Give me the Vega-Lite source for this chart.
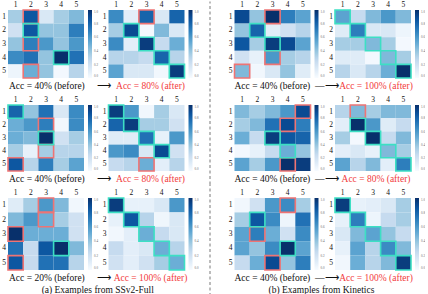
{
"$schema": "https://vega.github.io/schema/vega-lite/v6.json",
"padding": {"left": 1, "top": 0, "right": 0, "bottom": 0},
"config": {
 "view": {"stroke": null},
 "font": "Liberation Serif",
 "axis": {"labelFont": "Liberation Serif", "labelFontSize": 7.5, "labelColor": "#111", "ticks": false, "domain": false, "grid": false, "labelPadding": 1.5, "labelAngle": 0},
 "axisY": {"labelPadding": 2.5},
 "legend": {"gradientThickness": 4, "labelFontSize": 3.2, "labelColor": "#666", "offset": 4, "padding": 0, "gradientStrokeWidth": 0, "labelOffset": 1.5, "tickCount": 6, "labelFont": "Liberation Serif"},
 "title": {"font": "Liberation Serif", "fontSize": 9.5, "fontWeight": "normal", "color": "#111", "frame": "group"}
},
"data": {"values": [
{"p":"A1","r":1,"c":1,"v":0.35},{"p":"A1","r":1,"c":2,"v":0.85,"b":"R"},{"p":"A1","r":1,"c":3,"v":0.15},{"p":"A1","r":1,"c":4,"v":0.35},{"p":"A1","r":1,"c":5,"v":0.45},
{"p":"A1","r":2,"c":1,"v":0.2},{"p":"A1","r":2,"c":2,"v":0.85,"b":"C"},{"p":"A1","r":2,"c":3,"v":0.4},{"p":"A1","r":2,"c":4,"v":0.4},{"p":"A1","r":2,"c":5,"v":0.7},
{"p":"A1","r":3,"c":1,"v":0.4},{"p":"A1","r":3,"c":2,"v":0.7,"b":"R"},{"p":"A1","r":3,"c":3,"v":0.6},{"p":"A1","r":3,"c":4,"v":0.4},{"p":"A1","r":3,"c":5,"v":0.6},
{"p":"A1","r":4,"c":1,"v":0.65},{"p":"A1","r":4,"c":2,"v":0.75},{"p":"A1","r":4,"c":3,"v":0.4},{"p":"A1","r":4,"c":4,"v":1.0,"b":"C"},{"p":"A1","r":4,"c":5,"v":0.75},
{"p":"A1","r":5,"c":1,"v":0.05},{"p":"A1","r":5,"c":2,"v":0.5,"b":"R"},{"p":"A1","r":5,"c":3,"v":0.4},{"p":"A1","r":5,"c":4,"v":0.02},{"p":"A1","r":5,"c":5,"v":0.3},
{"p":"A2","r":1,"c":1,"v":0.65},{"p":"A2","r":1,"c":2,"v":0.1},{"p":"A2","r":1,"c":3,"v":0.8,"b":"R"},{"p":"A2","r":1,"c":4,"v":0.15},{"p":"A2","r":1,"c":5,"v":0.8},
{"p":"A2","r":2,"c":1,"v":0.35},{"p":"A2","r":2,"c":2,"v":0.9,"b":"C"},{"p":"A2","r":2,"c":3,"v":0.02},{"p":"A2","r":2,"c":4,"v":0.45},{"p":"A2","r":2,"c":5,"v":0.15},
{"p":"A2","r":3,"c":1,"v":0.65},{"p":"A2","r":3,"c":2,"v":0.1},{"p":"A2","r":3,"c":3,"v":0.95,"b":"C"},{"p":"A2","r":3,"c":4,"v":0.25},{"p":"A2","r":3,"c":5,"v":0.5},
{"p":"A2","r":4,"c":1,"v":0.3},{"p":"A2","r":4,"c":2,"v":0.3},{"p":"A2","r":4,"c":3,"v":0.25},{"p":"A2","r":4,"c":4,"v":0.8,"b":"C"},{"p":"A2","r":4,"c":5,"v":0.3},
{"p":"A2","r":5,"c":1,"v":0.55},{"p":"A2","r":5,"c":2,"v":0.15},{"p":"A2","r":5,"c":3,"v":0.15},{"p":"A2","r":5,"c":4,"v":0.03},{"p":"A2","r":5,"c":5,"v":0.95,"b":"C"},
{"p":"B1","r":1,"c":1,"v":0.9},{"p":"B1","r":1,"c":2,"v":0.4},{"p":"B1","r":1,"c":3,"v":1.0,"b":"R"},{"p":"B1","r":1,"c":4,"v":0.7},{"p":"B1","r":1,"c":5,"v":0.55},
{"p":"B1","r":2,"c":1,"v":0.4},{"p":"B1","r":2,"c":2,"v":0.8,"b":"C"},{"p":"B1","r":2,"c":3,"v":0.1},{"p":"B1","r":2,"c":4,"v":0.2},{"p":"B1","r":2,"c":5,"v":0.3},
{"p":"B1","r":3,"c":1,"v":0.85},{"p":"B1","r":3,"c":2,"v":0.35},{"p":"B1","r":3,"c":3,"v":0.95,"b":"C"},{"p":"B1","r":3,"c":4,"v":0.9},{"p":"B1","r":3,"c":5,"v":0.55},
{"p":"B1","r":4,"c":1,"v":0.2},{"p":"B1","r":4,"c":2,"v":0.08},{"p":"B1","r":4,"c":3,"v":0.6,"b":"R"},{"p":"B1","r":4,"c":4,"v":0.35},{"p":"B1","r":4,"c":5,"v":0.3},
{"p":"B1","r":5,"c":1,"v":0.45,"b":"R"},{"p":"B1","r":5,"c":2,"v":0.03},{"p":"B1","r":5,"c":3,"v":0.15},{"p":"B1","r":5,"c":4,"v":0.4},{"p":"B1","r":5,"c":5,"v":0.12},
{"p":"B2","r":1,"c":1,"v":0.55,"b":"C"},{"p":"B2","r":1,"c":2,"v":0.25},{"p":"B2","r":1,"c":3,"v":0.45},{"p":"B2","r":1,"c":4,"v":0.6},{"p":"B2","r":1,"c":5,"v":0.45},
{"p":"B2","r":2,"c":1,"v":0.12},{"p":"B2","r":2,"c":2,"v":0.7,"b":"C"},{"p":"B2","r":2,"c":3,"v":0.15},{"p":"B2","r":2,"c":4,"v":0.15},{"p":"B2","r":2,"c":5,"v":0.05},
{"p":"B2","r":3,"c":1,"v":0.35},{"p":"B2","r":3,"c":2,"v":0.35},{"p":"B2","r":3,"c":3,"v":0.45,"b":"C"},{"p":"B2","r":3,"c":4,"v":0.35},{"p":"B2","r":3,"c":5,"v":0.02},
{"p":"B2","r":4,"c":1,"v":0.12},{"p":"B2","r":4,"c":2,"v":0.12},{"p":"B2","r":4,"c":3,"v":0.02},{"p":"B2","r":4,"c":4,"v":0.45,"b":"C"},{"p":"B2","r":4,"c":5,"v":0.35},
{"p":"B2","r":5,"c":1,"v":0.3},{"p":"B2","r":5,"c":2,"v":0.15},{"p":"B2","r":5,"c":3,"v":0.3},{"p":"B2","r":5,"c":4,"v":0.5},{"p":"B2","r":5,"c":5,"v":1.0,"b":"C"},
{"p":"A3","r":1,"c":1,"v":0.8,"b":"C"},{"p":"A3","r":1,"c":2,"v":0.4},{"p":"A3","r":1,"c":3,"v":0.75},{"p":"A3","r":1,"c":4,"v":0.15},{"p":"A3","r":1,"c":5,"v":0.65},
{"p":"A3","r":2,"c":1,"v":0.5},{"p":"A3","r":2,"c":2,"v":0.6},{"p":"A3","r":2,"c":3,"v":0.7,"b":"R"},{"p":"A3","r":2,"c":4,"v":0.03},{"p":"A3","r":2,"c":5,"v":0.65},
{"p":"A3","r":3,"c":1,"v":0.5},{"p":"A3","r":3,"c":2,"v":0.45},{"p":"A3","r":3,"c":3,"v":1.0,"b":"C"},{"p":"A3","r":3,"c":4,"v":0.2},{"p":"A3","r":3,"c":5,"v":0.35},
{"p":"A3","r":4,"c":1,"v":0.35},{"p":"A3","r":4,"c":2,"v":0.08},{"p":"A3","r":4,"c":3,"v":0.35,"b":"R"},{"p":"A3","r":4,"c":4,"v":0.3},{"p":"A3","r":4,"c":5,"v":0.3},
{"p":"A3","r":5,"c":1,"v":0.85,"b":"R"},{"p":"A3","r":5,"c":2,"v":0.3},{"p":"A3","r":5,"c":3,"v":0.7},{"p":"A3","r":5,"c":4,"v":0.35},{"p":"A3","r":5,"c":5,"v":0.55},
{"p":"A4","r":1,"c":1,"v":0.95,"b":"C"},{"p":"A4","r":1,"c":2,"v":0.6},{"p":"A4","r":1,"c":3,"v":0.03},{"p":"A4","r":1,"c":4,"v":0.35},{"p":"A4","r":1,"c":5,"v":0.15},
{"p":"A4","r":2,"c":1,"v":0.8},{"p":"A4","r":2,"c":2,"v":0.95,"b":"C"},{"p":"A4","r":2,"c":3,"v":0.35},{"p":"A4","r":2,"c":4,"v":0.35},{"p":"A4","r":2,"c":5,"v":0.2},
{"p":"A4","r":3,"c":1,"v":0.12},{"p":"A4","r":3,"c":2,"v":0.12},{"p":"A4","r":3,"c":3,"v":0.75,"b":"C"},{"p":"A4","r":3,"c":4,"v":0.08},{"p":"A4","r":3,"c":5,"v":0.6},
{"p":"A4","r":4,"c":1,"v":0.6},{"p":"A4","r":4,"c":2,"v":0.65},{"p":"A4","r":4,"c":3,"v":0.15},{"p":"A4","r":4,"c":4,"v":0.9,"b":"C"},{"p":"A4","r":4,"c":5,"v":0.2},
{"p":"A4","r":5,"c":1,"v":0.25},{"p":"A4","r":5,"c":2,"v":0.3},{"p":"A4","r":5,"c":3,"v":0.5,"b":"R"},{"p":"A4","r":5,"c":4,"v":0.1},{"p":"A4","r":5,"c":5,"v":0.3},
{"p":"B3","r":1,"c":1,"v":0.45},{"p":"B3","r":1,"c":2,"v":0.35},{"p":"B3","r":1,"c":3,"v":0.45},{"p":"B3","r":1,"c":4,"v":0.6},{"p":"B3","r":1,"c":5,"v":0.9,"b":"R"},
{"p":"B3","r":2,"c":1,"v":0.35},{"p":"B3","r":2,"c":2,"v":0.45},{"p":"B3","r":2,"c":3,"v":0.75},{"p":"B3","r":2,"c":4,"v":0.9,"b":"R"},{"p":"B3","r":2,"c":5,"v":0.7},
{"p":"B3","r":3,"c":1,"v":0.5},{"p":"B3","r":3,"c":2,"v":0.25},{"p":"B3","r":3,"c":3,"v":0.95,"b":"C"},{"p":"B3","r":3,"c":4,"v":0.85},{"p":"B3","r":3,"c":5,"v":0.8},
{"p":"B3","r":4,"c":1,"v":0.02},{"p":"B3","r":4,"c":2,"v":0.08},{"p":"B3","r":4,"c":3,"v":0.25},{"p":"B3","r":4,"c":4,"v":0.5,"b":"C"},{"p":"B3","r":4,"c":5,"v":0.4},
{"p":"B3","r":5,"c":1,"v":0.55},{"p":"B3","r":5,"c":2,"v":0.35},{"p":"B3","r":5,"c":3,"v":0.6},{"p":"B3","r":5,"c":4,"v":1.0,"b":"R"},{"p":"B3","r":5,"c":5,"v":0.95},
{"p":"B4","r":1,"c":1,"v":0.3},{"p":"B4","r":1,"c":2,"v":0.45,"b":"R"},{"p":"B4","r":1,"c":3,"v":0.35},{"p":"B4","r":1,"c":4,"v":0.45},{"p":"B4","r":1,"c":5,"v":0.45},
{"p":"B4","r":2,"c":1,"v":0.1},{"p":"B4","r":2,"c":2,"v":1.0,"b":"C"},{"p":"B4","r":2,"c":3,"v":0.6},{"p":"B4","r":2,"c":4,"v":0.12},{"p":"B4","r":2,"c":5,"v":0.25},
{"p":"B4","r":3,"c":1,"v":0.35},{"p":"B4","r":3,"c":2,"v":0.02},{"p":"B4","r":3,"c":3,"v":1.0,"b":"C"},{"p":"B4","r":3,"c":4,"v":0.25},{"p":"B4","r":3,"c":5,"v":0.45},
{"p":"B4","r":4,"c":1,"v":0.1},{"p":"B4","r":4,"c":2,"v":0.15},{"p":"B4","r":4,"c":3,"v":0.08},{"p":"B4","r":4,"c":4,"v":0.45,"b":"C"},{"p":"B4","r":4,"c":5,"v":0.35},
{"p":"B4","r":5,"c":1,"v":0.55},{"p":"B4","r":5,"c":2,"v":0.3},{"p":"B4","r":5,"c":3,"v":0.45},{"p":"B4","r":5,"c":4,"v":0.1},{"p":"B4","r":5,"c":5,"v":0.7,"b":"C"},
{"p":"A5","r":1,"c":1,"v":0.12},{"p":"A5","r":1,"c":2,"v":0.35},{"p":"A5","r":1,"c":3,"v":0.6,"b":"R"},{"p":"A5","r":1,"c":4,"v":0.45},{"p":"A5","r":1,"c":5,"v":0.03},
{"p":"A5","r":2,"c":1,"v":0.45},{"p":"A5","r":2,"c":2,"v":0.6},{"p":"A5","r":2,"c":3,"v":0.5,"b":"R"},{"p":"A5","r":2,"c":4,"v":0.35},{"p":"A5","r":2,"c":5,"v":0.2},
{"p":"A5","r":3,"c":1,"v":1.0,"b":"R"},{"p":"A5","r":3,"c":2,"v":0.5},{"p":"A5","r":3,"c":3,"v":0.5},{"p":"A5","r":3,"c":4,"v":0.5},{"p":"A5","r":3,"c":5,"v":0.2},
{"p":"A5","r":4,"c":1,"v":0.75},{"p":"A5","r":4,"c":2,"v":0.25},{"p":"A5","r":4,"c":3,"v":0.85},{"p":"A5","r":4,"c":4,"v":1.0,"b":"C"},{"p":"A5","r":4,"c":5,"v":0.45},
{"p":"A5","r":5,"c":1,"v":0.85,"b":"R"},{"p":"A5","r":5,"c":2,"v":0.25},{"p":"A5","r":5,"c":3,"v":0.75},{"p":"A5","r":5,"c":4,"v":0.75},{"p":"A5","r":5,"c":5,"v":0.3},
{"p":"A6","r":1,"c":1,"v":0.95,"b":"C"},{"p":"A6","r":1,"c":2,"v":0.08},{"p":"A6","r":1,"c":3,"v":0.08},{"p":"A6","r":1,"c":4,"v":0.15},{"p":"A6","r":1,"c":5,"v":0.6},
{"p":"A6","r":2,"c":1,"v":0.08},{"p":"A6","r":2,"c":2,"v":0.85,"b":"C"},{"p":"A6","r":2,"c":3,"v":0.3},{"p":"A6","r":2,"c":4,"v":0.04},{"p":"A6","r":2,"c":5,"v":0.15},
{"p":"A6","r":3,"c":1,"v":0.03},{"p":"A6","r":3,"c":2,"v":0.1},{"p":"A6","r":3,"c":3,"v":0.5,"b":"C"},{"p":"A6","r":3,"c":4,"v":0.25},{"p":"A6","r":3,"c":5,"v":0.15},
{"p":"A6","r":4,"c":1,"v":0.25},{"p":"A6","r":4,"c":2,"v":0.1},{"p":"A6","r":4,"c":3,"v":0.15},{"p":"A6","r":4,"c":4,"v":0.5,"b":"C"},{"p":"A6","r":4,"c":5,"v":0.3},
{"p":"A6","r":5,"c":1,"v":0.2},{"p":"A6","r":5,"c":2,"v":0.1},{"p":"A6","r":5,"c":3,"v":0.2},{"p":"A6","r":5,"c":4,"v":0.35},{"p":"A6","r":5,"c":5,"v":0.5,"b":"C"},
{"p":"B5","r":1,"c":1,"v":0.03},{"p":"B5","r":1,"c":2,"v":0.2},{"p":"B5","r":1,"c":3,"v":0.6},{"p":"B5","r":1,"c":4,"v":0.65,"b":"R"},{"p":"B5","r":1,"c":5,"v":0.35},
{"p":"B5","r":2,"c":1,"v":0.35},{"p":"B5","r":2,"c":2,"v":0.85,"b":"C"},{"p":"B5","r":2,"c":3,"v":0.65},{"p":"B5","r":2,"c":4,"v":0.05},{"p":"B5","r":2,"c":5,"v":0.75},
{"p":"B5","r":3,"c":1,"v":0.55},{"p":"B5","r":3,"c":2,"v":0.7,"b":"R"},{"p":"B5","r":3,"c":3,"v":0.5},{"p":"B5","r":3,"c":4,"v":0.2},{"p":"B5","r":3,"c":5,"v":0.65},
{"p":"B5","r":4,"c":1,"v":0.55},{"p":"B5","r":4,"c":2,"v":0.4},{"p":"B5","r":4,"c":3,"v":0.65},{"p":"B5","r":4,"c":4,"v":1.0,"b":"C"},{"p":"B5","r":4,"c":5,"v":0.55},
{"p":"B5","r":5,"c":1,"v":0.25},{"p":"B5","r":5,"c":2,"v":0.5},{"p":"B5","r":5,"c":3,"v":0.9,"b":"R"},{"p":"B5","r":5,"c":4,"v":0.4},{"p":"B5","r":5,"c":5,"v":0.7},
{"p":"B6","r":1,"c":1,"v":0.95,"b":"C"},{"p":"B6","r":1,"c":2,"v":0.08},{"p":"B6","r":1,"c":3,"v":0.1},{"p":"B6","r":1,"c":4,"v":0.15},{"p":"B6","r":1,"c":5,"v":0.35},
{"p":"B6","r":2,"c":1,"v":0.08},{"p":"B6","r":2,"c":2,"v":0.7,"b":"C"},{"p":"B6","r":2,"c":3,"v":0.05},{"p":"B6","r":2,"c":4,"v":0.25},{"p":"B6","r":2,"c":5,"v":0.35},
{"p":"B6","r":3,"c":1,"v":0.15},{"p":"B6","r":3,"c":2,"v":0.45},{"p":"B6","r":3,"c":3,"v":0.55,"b":"C"},{"p":"B6","r":3,"c":4,"v":0.4},{"p":"B6","r":3,"c":5,"v":0.25},
{"p":"B6","r":4,"c":1,"v":0.08},{"p":"B6","r":4,"c":2,"v":0.55},{"p":"B6","r":4,"c":3,"v":0.3},{"p":"B6","r":4,"c":4,"v":0.65,"b":"C"},{"p":"B6","r":4,"c":5,"v":0.45},
{"p":"B6","r":5,"c":1,"v":0.03},{"p":"B6","r":5,"c":2,"v":0.5},{"p":"B6","r":5,"c":3,"v":0.3},{"p":"B6","r":5,"c":4,"v":0.45},{"p":"B6","r":5,"c":5,"v":0.95,"b":"C"}
]},
"columns": 5,
"spacing": {"row": 27, "column": 24.5},
"bounds": "flush",
"align": "each",
"resolve": {"scale": {"color": "independent"}, "legend": {"color": "independent"}},
"concat": [
 {"width": 76, "height": 68, "title": {"text": "Acc = 40% (before)\u2003\u2004\u27f6", "orient": "bottom", "anchor": "start", "offset": 2, "dx": 1},
  "transform": [{"filter": "datum.p == 'A1'"}],
  "encoding": {"x": {"field": "c", "type": "ordinal", "axis": {"orient": "top", "title": null}}, "y": {"field": "r", "type": "ordinal", "axis": {"title": null}}},
  "layer": [
   {"mark": "rect", "encoding": {"color": {"field": "v", "type": "quantitative", "scale": {"domain": [0,0.125,0.25,0.375,0.5,0.625,0.75,0.875,1], "range": ["#f7fbff","#deebf7","#c6dbef","#9ecae1","#6baed6","#4292c6","#2171b5","#08519c","#08306b"]}, "legend": {"title": null, "gradientLength": 68}}}},
   {"transform": [{"filter": "datum.b == 'R'"}], "mark": {"type": "rect", "filled": false, "stroke": "#ee7474", "strokeWidth": 1.6}},
   {"transform": [{"filter": "datum.b == 'C'"}], "mark": {"type": "rect", "filled": false, "stroke": "#3ddfc4", "strokeWidth": 1.6}}
  ]},
 {"width": 76, "height": 68, "title": {"text": "Acc = 80% (after)", "orient": "bottom", "anchor": "middle", "offset": 2, "dx": 4, "color": "#f23a3c"},
  "transform": [{"filter": "datum.p == 'A2'"}],
  "encoding": {"x": {"field": "c", "type": "ordinal", "axis": {"orient": "top", "title": null}}, "y": {"field": "r", "type": "ordinal", "axis": {"title": null}}},
  "layer": [
   {"mark": "rect", "encoding": {"color": {"field": "v", "type": "quantitative", "scale": {"domain": [0,0.125,0.25,0.375,0.5,0.625,0.75,0.875,1], "range": ["#f7fbff","#deebf7","#c6dbef","#9ecae1","#6baed6","#4292c6","#2171b5","#08519c","#08306b"]}, "legend": {"title": null, "gradientLength": 68}}}},
   {"transform": [{"filter": "datum.b == 'R'"}], "mark": {"type": "rect", "filled": false, "stroke": "#ee7474", "strokeWidth": 1.6}},
   {"transform": [{"filter": "datum.b == 'C'"}], "mark": {"type": "rect", "filled": false, "stroke": "#3ddfc4", "strokeWidth": 1.6}}
  ]},
 {"width": 1, "height": 68, "data": {"values": [{"d": 1}]},
  "mark": {"type": "rule", "strokeDash": [3, 2.5], "color": "#555", "strokeWidth": 0.8, "yOffset": 13.5, "y2Offset": -8.5},
  "encoding": {"x": {"datum": 1, "type": "quantitative", "scale": {"domain": [0, 1]}, "axis": null}, "y": {"datum": 0, "type": "quantitative", "scale": {"domain": [0, 1]}, "axis": null}, "y2": {"datum": 1}}},
 {"width": 76, "height": 68, "title": {"text": "Acc = 40% (before)\u2002\u2014\u27f6", "orient": "bottom", "anchor": "start", "offset": 2, "dx": 0},
  "transform": [{"filter": "datum.p == 'B1'"}],
  "encoding": {"x": {"field": "c", "type": "ordinal", "axis": {"orient": "top", "title": null}}, "y": {"field": "r", "type": "ordinal", "axis": {"title": null}}},
  "layer": [
   {"mark": "rect", "encoding": {"color": {"field": "v", "type": "quantitative", "scale": {"domain": [0,0.125,0.25,0.375,0.5,0.625,0.75,0.875,1], "range": ["#f7fbff","#deebf7","#c6dbef","#9ecae1","#6baed6","#4292c6","#2171b5","#08519c","#08306b"]}, "legend": {"title": null, "gradientLength": 68}}}},
   {"transform": [{"filter": "datum.b == 'R'"}], "mark": {"type": "rect", "filled": false, "stroke": "#ee7474", "strokeWidth": 1.6}},
   {"transform": [{"filter": "datum.b == 'C'"}], "mark": {"type": "rect", "filled": false, "stroke": "#3ddfc4", "strokeWidth": 1.6}}
  ]},
 {"width": 76, "height": 68, "title": {"text": "Acc = 100% (after)", "orient": "bottom", "anchor": "middle", "offset": 2, "dx": 3, "color": "#f23a3c"},
  "transform": [{"filter": "datum.p == 'B2'"}],
  "encoding": {"x": {"field": "c", "type": "ordinal", "axis": {"orient": "top", "title": null}}, "y": {"field": "r", "type": "ordinal", "axis": {"title": null}}},
  "layer": [
   {"mark": "rect", "encoding": {"color": {"field": "v", "type": "quantitative", "scale": {"domain": [0,0.125,0.25,0.375,0.5,0.625,0.75,0.875,1], "range": ["#f7fbff","#deebf7","#c6dbef","#9ecae1","#6baed6","#4292c6","#2171b5","#08519c","#08306b"]}, "legend": {"title": null, "gradientLength": 68}}}},
   {"transform": [{"filter": "datum.b == 'R'"}], "mark": {"type": "rect", "filled": false, "stroke": "#ee7474", "strokeWidth": 1.6}},
   {"transform": [{"filter": "datum.b == 'C'"}], "mark": {"type": "rect", "filled": false, "stroke": "#3ddfc4", "strokeWidth": 1.6}}
  ]},
 {"width": 76, "height": 66, "title": {"text": "Acc = 40% (before)\u2003\u2004\u27f6", "orient": "bottom", "anchor": "start", "offset": 2, "dx": 1},
  "transform": [{"filter": "datum.p == 'A3'"}],
  "encoding": {"x": {"field": "c", "type": "ordinal", "axis": {"orient": "top", "title": null}}, "y": {"field": "r", "type": "ordinal", "axis": {"title": null}}},
  "layer": [
   {"mark": "rect", "encoding": {"color": {"field": "v", "type": "quantitative", "scale": {"domain": [0,0.125,0.25,0.375,0.5,0.625,0.75,0.875,1], "range": ["#f7fbff","#deebf7","#c6dbef","#9ecae1","#6baed6","#4292c6","#2171b5","#08519c","#08306b"]}, "legend": {"title": null, "gradientLength": 66}}}},
   {"transform": [{"filter": "datum.b == 'R'"}], "mark": {"type": "rect", "filled": false, "stroke": "#ee7474", "strokeWidth": 1.6}},
   {"transform": [{"filter": "datum.b == 'C'"}], "mark": {"type": "rect", "filled": false, "stroke": "#3ddfc4", "strokeWidth": 1.6}}
  ]},
 {"width": 76, "height": 66, "title": {"text": "Acc = 80% (after)", "orient": "bottom", "anchor": "middle", "offset": 2, "dx": 4, "color": "#f23a3c"},
  "transform": [{"filter": "datum.p == 'A4'"}],
  "encoding": {"x": {"field": "c", "type": "ordinal", "axis": {"orient": "top", "title": null}}, "y": {"field": "r", "type": "ordinal", "axis": {"title": null}}},
  "layer": [
   {"mark": "rect", "encoding": {"color": {"field": "v", "type": "quantitative", "scale": {"domain": [0,0.125,0.25,0.375,0.5,0.625,0.75,0.875,1], "range": ["#f7fbff","#deebf7","#c6dbef","#9ecae1","#6baed6","#4292c6","#2171b5","#08519c","#08306b"]}, "legend": {"title": null, "gradientLength": 66}}}},
   {"transform": [{"filter": "datum.b == 'R'"}], "mark": {"type": "rect", "filled": false, "stroke": "#ee7474", "strokeWidth": 1.6}},
   {"transform": [{"filter": "datum.b == 'C'"}], "mark": {"type": "rect", "filled": false, "stroke": "#3ddfc4", "strokeWidth": 1.6}}
  ]},
 {"width": 1, "height": 66, "data": {"values": [{"d": 1}]},
  "mark": {"type": "rule", "strokeDash": [3, 2.5], "color": "#555", "strokeWidth": 0.8, "yOffset": 13.5, "y2Offset": -13.5},
  "encoding": {"x": {"datum": 1, "type": "quantitative", "scale": {"domain": [0, 1]}, "axis": null}, "y": {"datum": 0, "type": "quantitative", "scale": {"domain": [0, 1]}, "axis": null}, "y2": {"datum": 1}}},
 {"width": 76, "height": 66, "title": {"text": "Acc = 40% (before)\u2002\u2014\u27f6", "orient": "bottom", "anchor": "start", "offset": 2, "dx": 0},
  "transform": [{"filter": "datum.p == 'B3'"}],
  "encoding": {"x": {"field": "c", "type": "ordinal", "axis": {"orient": "top", "title": null}}, "y": {"field": "r", "type": "ordinal", "axis": {"title": null}}},
  "layer": [
   {"mark": "rect", "encoding": {"color": {"field": "v", "type": "quantitative", "scale": {"domain": [0,0.125,0.25,0.375,0.5,0.625,0.75,0.875,1], "range": ["#f7fbff","#deebf7","#c6dbef","#9ecae1","#6baed6","#4292c6","#2171b5","#08519c","#08306b"]}, "legend": {"title": null, "gradientLength": 66}}}},
   {"transform": [{"filter": "datum.b == 'R'"}], "mark": {"type": "rect", "filled": false, "stroke": "#ee7474", "strokeWidth": 1.6}},
   {"transform": [{"filter": "datum.b == 'C'"}], "mark": {"type": "rect", "filled": false, "stroke": "#3ddfc4", "strokeWidth": 1.6}}
  ]},
 {"width": 76, "height": 66, "title": {"text": "Acc = 80% (after)", "orient": "bottom", "anchor": "middle", "offset": 2, "dx": 3, "color": "#f23a3c"},
  "transform": [{"filter": "datum.p == 'B4'"}],
  "encoding": {"x": {"field": "c", "type": "ordinal", "axis": {"orient": "top", "title": null}}, "y": {"field": "r", "type": "ordinal", "axis": {"title": null}}},
  "layer": [
   {"mark": "rect", "encoding": {"color": {"field": "v", "type": "quantitative", "scale": {"domain": [0,0.125,0.25,0.375,0.5,0.625,0.75,0.875,1], "range": ["#f7fbff","#deebf7","#c6dbef","#9ecae1","#6baed6","#4292c6","#2171b5","#08519c","#08306b"]}, "legend": {"title": null, "gradientLength": 66}}}},
   {"transform": [{"filter": "datum.b == 'R'"}], "mark": {"type": "rect", "filled": false, "stroke": "#ee7474", "strokeWidth": 1.6}},
   {"transform": [{"filter": "datum.b == 'C'"}], "mark": {"type": "rect", "filled": false, "stroke": "#3ddfc4", "strokeWidth": 1.6}}
  ]},
 {"width": 76, "height": 72, "title": {"text": "Acc = 20% (before)\u2003\u2004\u27f6", "orient": "bottom", "anchor": "start", "offset": 2, "dx": 1},
  "transform": [{"filter": "datum.p == 'A5'"}],
  "encoding": {"x": {"field": "c", "type": "ordinal", "axis": {"orient": "top", "title": null}}, "y": {"field": "r", "type": "ordinal", "axis": {"title": null}}},
  "layer": [
   {"mark": "rect", "encoding": {"color": {"field": "v", "type": "quantitative", "scale": {"domain": [0,0.125,0.25,0.375,0.5,0.625,0.75,0.875,1], "range": ["#f7fbff","#deebf7","#c6dbef","#9ecae1","#6baed6","#4292c6","#2171b5","#08519c","#08306b"]}, "legend": {"title": null, "gradientLength": 72}}}},
   {"transform": [{"filter": "datum.b == 'R'"}], "mark": {"type": "rect", "filled": false, "stroke": "#ee7474", "strokeWidth": 1.6}},
   {"transform": [{"filter": "datum.b == 'C'"}], "mark": {"type": "rect", "filled": false, "stroke": "#3ddfc4", "strokeWidth": 1.6}}
  ]},
 {"width": 76, "height": 72, "title": {"text": "Acc = 100% (after)", "orient": "bottom", "anchor": "middle", "offset": 2, "dx": 4, "color": "#f23a3c"},
  "transform": [{"filter": "datum.p == 'A6'"}],
  "encoding": {"x": {"field": "c", "type": "ordinal", "axis": {"orient": "top", "title": null}}, "y": {"field": "r", "type": "ordinal", "axis": {"title": null}}},
  "layer": [
   {"mark": "rect", "encoding": {"color": {"field": "v", "type": "quantitative", "scale": {"domain": [0,0.125,0.25,0.375,0.5,0.625,0.75,0.875,1], "range": ["#f7fbff","#deebf7","#c6dbef","#9ecae1","#6baed6","#4292c6","#2171b5","#08519c","#08306b"]}, "legend": {"title": null, "gradientLength": 72}}}},
   {"transform": [{"filter": "datum.b == 'R'"}], "mark": {"type": "rect", "filled": false, "stroke": "#ee7474", "strokeWidth": 1.6}},
   {"transform": [{"filter": "datum.b == 'C'"}], "mark": {"type": "rect", "filled": false, "stroke": "#3ddfc4", "strokeWidth": 1.6}}
  ]},
 {"width": 1, "height": 72, "data": {"values": [{"d": 1}]},
  "mark": {"type": "rule", "strokeDash": [3, 2.5], "color": "#555", "strokeWidth": 0.8, "yOffset": 26, "y2Offset": -13.5},
  "encoding": {"x": {"datum": 1, "type": "quantitative", "scale": {"domain": [0, 1]}, "axis": null}, "y": {"datum": 0, "type": "quantitative", "scale": {"domain": [0, 1]}, "axis": null}, "y2": {"datum": 1}}},
 {"width": 76, "height": 72, "title": {"text": "Acc = 40% (before)\u2002\u2014\u27f6", "orient": "bottom", "anchor": "start", "offset": 2, "dx": 0},
  "transform": [{"filter": "datum.p == 'B5'"}],
  "encoding": {"x": {"field": "c", "type": "ordinal", "axis": {"orient": "top", "title": null}}, "y": {"field": "r", "type": "ordinal", "axis": {"title": null}}},
  "layer": [
   {"mark": "rect", "encoding": {"color": {"field": "v", "type": "quantitative", "scale": {"domain": [0,0.125,0.25,0.375,0.5,0.625,0.75,0.875,1], "range": ["#f7fbff","#deebf7","#c6dbef","#9ecae1","#6baed6","#4292c6","#2171b5","#08519c","#08306b"]}, "legend": {"title": null, "gradientLength": 72}}}},
   {"transform": [{"filter": "datum.b == 'R'"}], "mark": {"type": "rect", "filled": false, "stroke": "#ee7474", "strokeWidth": 1.6}},
   {"transform": [{"filter": "datum.b == 'C'"}], "mark": {"type": "rect", "filled": false, "stroke": "#3ddfc4", "strokeWidth": 1.6}}
  ]},
 {"width": 76, "height": 72, "title": {"text": "Acc = 100% (after)", "orient": "bottom", "anchor": "middle", "offset": 2, "dx": 3, "color": "#f23a3c"},
  "transform": [{"filter": "datum.p == 'B6'"}],
  "encoding": {"x": {"field": "c", "type": "ordinal", "axis": {"orient": "top", "title": null}}, "y": {"field": "r", "type": "ordinal", "axis": {"title": null}}},
  "layer": [
   {"mark": "rect", "encoding": {"color": {"field": "v", "type": "quantitative", "scale": {"domain": [0,0.125,0.25,0.375,0.5,0.625,0.75,0.875,1], "range": ["#f7fbff","#deebf7","#c6dbef","#9ecae1","#6baed6","#4292c6","#2171b5","#08519c","#08306b"]}, "legend": {"title": null, "gradientLength": 72}}}},
   {"transform": [{"filter": "datum.b == 'R'"}], "mark": {"type": "rect", "filled": false, "stroke": "#ee7474", "strokeWidth": 1.6}},
   {"transform": [{"filter": "datum.b == 'C'"}], "mark": {"type": "rect", "filled": false, "stroke": "#3ddfc4", "strokeWidth": 1.6}}
  ]},
 {"width": 76, "height": 1, "data": {"values": [{"d": 1}]}, "mark": {"type": "point", "opacity": 0, "size": 0}, "encoding": {},
  "title": {"text": "(a) Examples from SSv2-Full", "orient": "top", "anchor": "middle", "offset": 3, "dx": 51.7}},
 {"width": 76, "height": 1, "data": {"values": [{"d": 1}]}, "mark": {"type": "point", "opacity": 0, "size": 0}, "encoding": {}},
 {"width": 1, "height": 1, "data": {"values": [{"d": 1}]}, "mark": {"type": "point", "opacity": 0, "size": 0}, "encoding": {},
  "title": {"text": "(b) Examples from Kinetics", "orient": "top", "anchor": "middle", "offset": 3, "dx": 112}}
]
}
